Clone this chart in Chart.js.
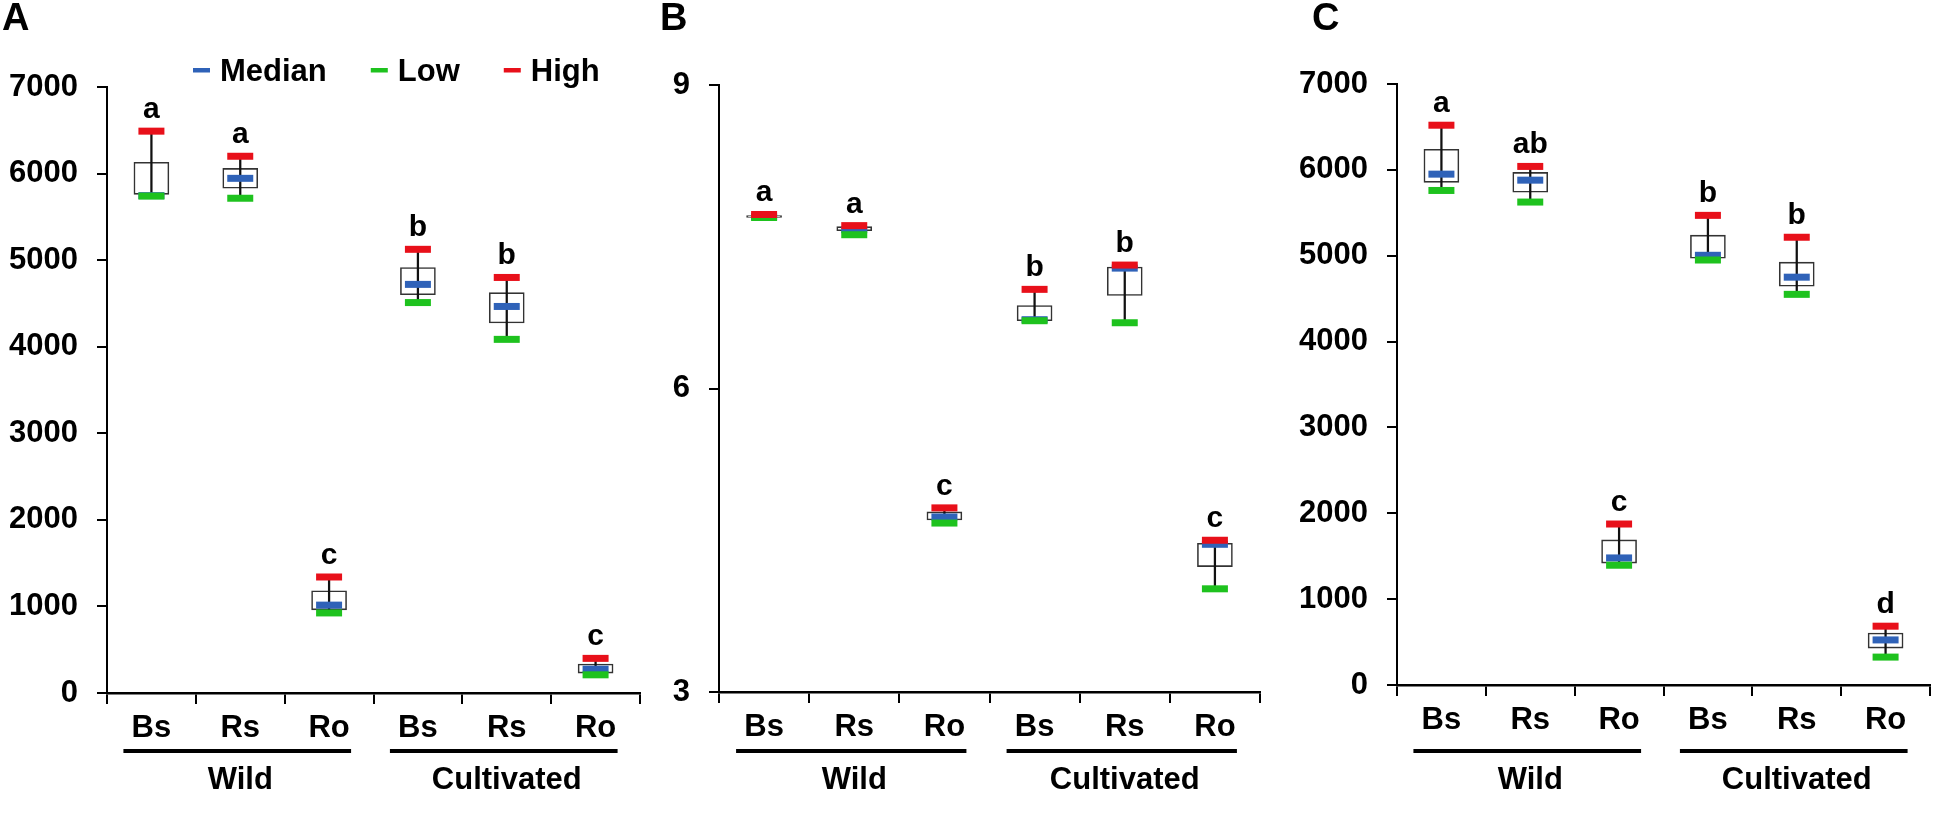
<!DOCTYPE html>
<html lang="en">
<head>
<meta charset="utf-8">
<title>Box plots - Wild vs Cultivated</title>
<script src="https://cdn.jsdelivr.net/npm/chart.js"></script>
<style>
    html, body { margin: 0; padding: 0; background: #fff; }
    body { width: 1950px; height: 825px; position: relative; overflow: hidden; }
    .panel { position: absolute; top: 0; height: 825px; }
    #panelA { left: 0; width: 660px; }
    #panelB { left: 655px; width: 625px; }
    #panelC { left: 1290px; width: 660px; }
</style>
</head>
<body>
<div class="panel" id="panelA"><canvas id="chartA"></canvas></div>
<div class="panel" id="panelB"><canvas id="chartB"></canvas></div>
<div class="panel" id="panelC"><canvas id="chartC"></canvas></div>

<script>
    // categories (Wild: Bs Rs Ro, Cultivated: Bs Rs Ro)
    const categories = ['Bs', 'Rs', 'Ro', 'Bs', 'Rs', 'Ro'];
    const groups = ['Wild', 'Cultivated'];

    // Panel A
    const aHigh   = [6490, 6200, 1340, 5125, 4800, 400];
    const aQ3     = [6130, 6060, 1180, 4915, 4625, 335];
    const aMedian = [5745, 5945, 1015, 4720, 4465, 275];
    const aQ1     = [5760, 5830, 960, 4600, 4275, 230];
    const aLow    = [5740, 5715, 925, 4510, 4085, 210];
    const aLetters = ['a', 'a', 'c', 'b', 'b', 'c'];

    // Panel B
    const bHigh   = [7.72, 7.61, 4.82, 6.98, 7.22, 4.50];
    const bQ3     = [7.71, 7.60, 4.78, 6.82, 7.20, 4.47];
    const bMedian = [7.70, 7.57, 4.73, 6.68, 7.19, 4.46];
    const bQ1     = [7.69, 7.56, 4.70, 6.67, 6.92, 4.24];
    const bLow    = [7.69, 7.52, 4.67, 6.67, 6.65, 4.02];
    const bLetters = ['a', 'a', 'c', 'b', 'b', 'c'];

    // Panel C
    const cHigh   = [6520, 6040, 1875, 5470, 5215, 685];
    const cQ3     = [6240, 5970, 1690, 5240, 4925, 605];
    const cMedian = [5950, 5880, 1480, 5005, 4750, 525];
    const cQ1     = [5855, 5740, 1420, 4970, 4645, 430];
    const cLow    = [5760, 5625, 1395, 4950, 4550, 325];
    const cLetters = ['a', 'ab', 'c', 'b', 'b', 'd'];

    // y axis ranges
    const aTicks = { min: 0, max: 7000, step: 1000 };
    const bTicks = { min: 3, max: 9, step: 3 };
    const cTicks = { min: 0, max: 7000, step: 1000 };

    const FONT = '"Liberation Sans", Arial, sans-serif';
    const RED = '#e8101a';
    const GREEN = '#1ec21e';
    const BLUE = '#2f62b8';

    // letters, group bars, panel label and legend
    const panelExtras = {
        id: 'panelExtras',
        afterDraw(chart, args, opts) {
            const ctx = chart.ctx;
            const x = chart.scales.x;
            const y = chart.scales.y;
            ctx.save();
            ctx.fillStyle = '#000';

            // significance letters above the high marks
            ctx.font = 'bold 30px ' + FONT;
            ctx.textAlign = 'center';
            ctx.textBaseline = 'alphabetic';
            opts.sig.forEach((s, i) => {
                ctx.fillText(s, x.getPixelForValue(i), y.getPixelForValue(opts.high[i]) - 13);
            });

            // group underline + names
            ctx.font = 'bold 31px ' + FONT;
            groups.forEach((g, k) => {
                const a = x.getPixelForValue(k * 3) - 28;
                const b = x.getPixelForValue(k * 3 + 2) + 22;
                ctx.fillRect(a, 749, b - a, 4);
                ctx.fillText(g, x.getPixelForValue(k * 3 + 1), 789);
            });

            // panel letter
            ctx.textAlign = 'left';
            ctx.font = 'bold 38px ' + FONT;
            ctx.fillText(opts.letter, opts.letterX, 30);

            // legend (panel A only)
            if (opts.legend) {
                let lx = chart.chartArea.left + 86;
                ctx.font = 'bold 31px ' + FONT;
                ['Median', 'Low', 'High'].forEach(name => {
                    const ds = chart.data.datasets.find(d => d.label === name);
                    ctx.fillStyle = ds.pointBorderColor;
                    ctx.fillRect(lx, 68, 17, 4.5);
                    lx += 27;
                    ctx.fillStyle = '#000';
                    ctx.fillText(name, lx, 81);
                    lx += ctx.measureText(name).width + 44;
                });
            }
            ctx.restore();
        }
    };

    function tickSet(label, data, color, order) {
        return {
            type: 'line', label: label, data: data, showLine: false,
            pointStyle: 'line', pointRadius: 13, pointHoverRadius: 13,
            pointBorderWidth: 7, pointHoverBorderWidth: 7,
            pointBorderColor: color, pointBackgroundColor: color,
            borderColor: color, borderWidth: 4, order: order
        };
    }

    function makePanel(id, high, q3, med, q1, low, sig, range, opt) {
        new Chart(document.getElementById(id), {
            type: 'bar',
            data: {
                labels: categories,
                datasets: [
                    tickSet('High', high, RED, 1),
                    tickSet('Low', low, GREEN, 2),
                    tickSet('Median', med, BLUE, 3),
                    {
                        label: 'whisker', data: low.map((v, i) => [v, high[i]]),
                        backgroundColor: '#111', barThickness: 1.6, grouped: false, order: 4
                    },
                    {
                        label: 'box', data: q1.map((v, i) => [v, q3[i]]),
                        backgroundColor: '#fff', borderColor: '#333', borderWidth: 1.6,
                        borderSkipped: false, barThickness: 35, grouped: false, order: 5
                    }
                ]
            },
            options: {
                responsive: true,
                maintainAspectRatio: false,
                animation: false,
                layout: { padding: { top: opt.top, right: opt.right, left: 0, bottom: 0 } },
                plugins: {
                    legend: { display: false },
                    tooltip: { enabled: false },
                    panelExtras: { sig: sig, high: high, letter: opt.letter, letterX: opt.letterX, legend: opt.legend }
                },
                scales: {
                    x: {
                        offset: true,
                        afterFit(scale) { scale.height = opt.xHeight; },
                        grid: { offset: true, drawOnChartArea: false, tickLength: 11, color: '#000', lineWidth: 2 },
                        border: { color: '#000', width: 2.5 },
                        ticks: { color: '#000', padding: 6, font: { family: FONT, size: 31, weight: 'bold' } }
                    },
                    y: {
                        min: range.min, max: range.max,
                        afterFit(scale) { scale.width = opt.yWidth; },
                        grid: { drawOnChartArea: false, tickLength: 10, color: '#000', lineWidth: 2 },
                        border: { color: '#000', width: 2 },
                        ticks: {
                            stepSize: range.step, color: '#000', padding: 19,
                            font: { family: FONT, size: 31, weight: 'bold' },
                            callback: v => String(v)
                        }
                    }
                }
            },
            plugins: [panelExtras]
        });
    }

    makePanel('chartA', aHigh, aQ3, aMedian, aQ1, aLow, aLetters, aTicks,
        { top: 87, right: 10, xHeight: 132, yWidth: 107, letter: 'A', letterX: 2, legend: true });
    makePanel('chartB', bHigh, bQ3, bMedian, bQ1, bLow, bLetters, bTicks,
        { top: 85, right: 10, xHeight: 133, yWidth: 64, letter: 'B', letterX: 5, legend: false });
    makePanel('chartC', cHigh, cQ3, cMedian, cQ1, cLow, cLetters, cTicks,
        { top: 84, right: 18, xHeight: 140, yWidth: 107, letter: 'C', letterX: 22, legend: false });
</script>
</body>
</html>
